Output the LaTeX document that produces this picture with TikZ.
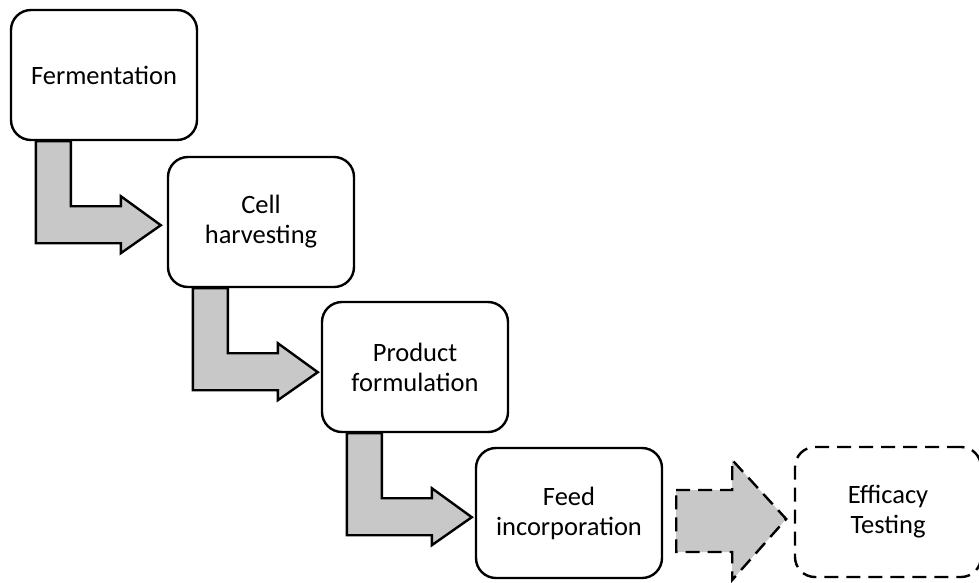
\documentclass[tikz,border=0pt]{standalone}
\usepackage{fontspec}
\usepackage{xcolor}
\usepackage{tikz}
\setmainfont{Carlito}
\definecolor{arrowgray}{RGB}{200,200,200}

\begin{document}
\begin{tikzpicture}
                        [x=1pt, y=-1pt,
                        line width = 2.4pt,
                        stage/.style = {draw, fill=white,
                                    rounded corners=20pt,
                                    minimum width = 186pt,
                                    minimum height = 130pt,
                                    align=center,
                                    font=\fontsize{26.5}{30}\selectfont},
                        flow/.style = {draw, fill=arrowgray, line join=miter},
                        planned/.style = {dash pattern=on 14pt off 8pt}]
                        \useasboundingbox (0,0) rectangle (979,582);
                        % Etapas del proceso
                        \node[stage] (ferm) at (104,75) {Fermentation};
                        \node[stage] (cell) at (261,222) {Cell\\harvesting};
                        \node[stage] (prod) at (415,367) {Product\\formulation};
                        \node[stage] (feed) at (569,513) {Feed\\incorporation};
                        % Etapa prevista
                        \node[stage,planned] (test) at (888,512) {Efficacy\\Testing};
                        % Flechas acodadas
                        \foreach \s in {ferm,cell,prod}
                            \draw[flow, shift={(\s.south west)}]
                                (26,0) -- (26,102) -- (111,102) -- (111,112) -- (151,84)
                                -- (111,55) -- (111,65) -- (61,65) -- (61,0) -- cycle;
                        % Flecha hacia el ensayo
                        \draw[flow, planned, shift={(feed.east)}]
                            (13,-23) -- (69,-23) -- (69,-53) -- (123,6) -- (69,67)
                            -- (69,39) -- (13,39) -- cycle;
                    \end{tikzpicture}
\end{document}
